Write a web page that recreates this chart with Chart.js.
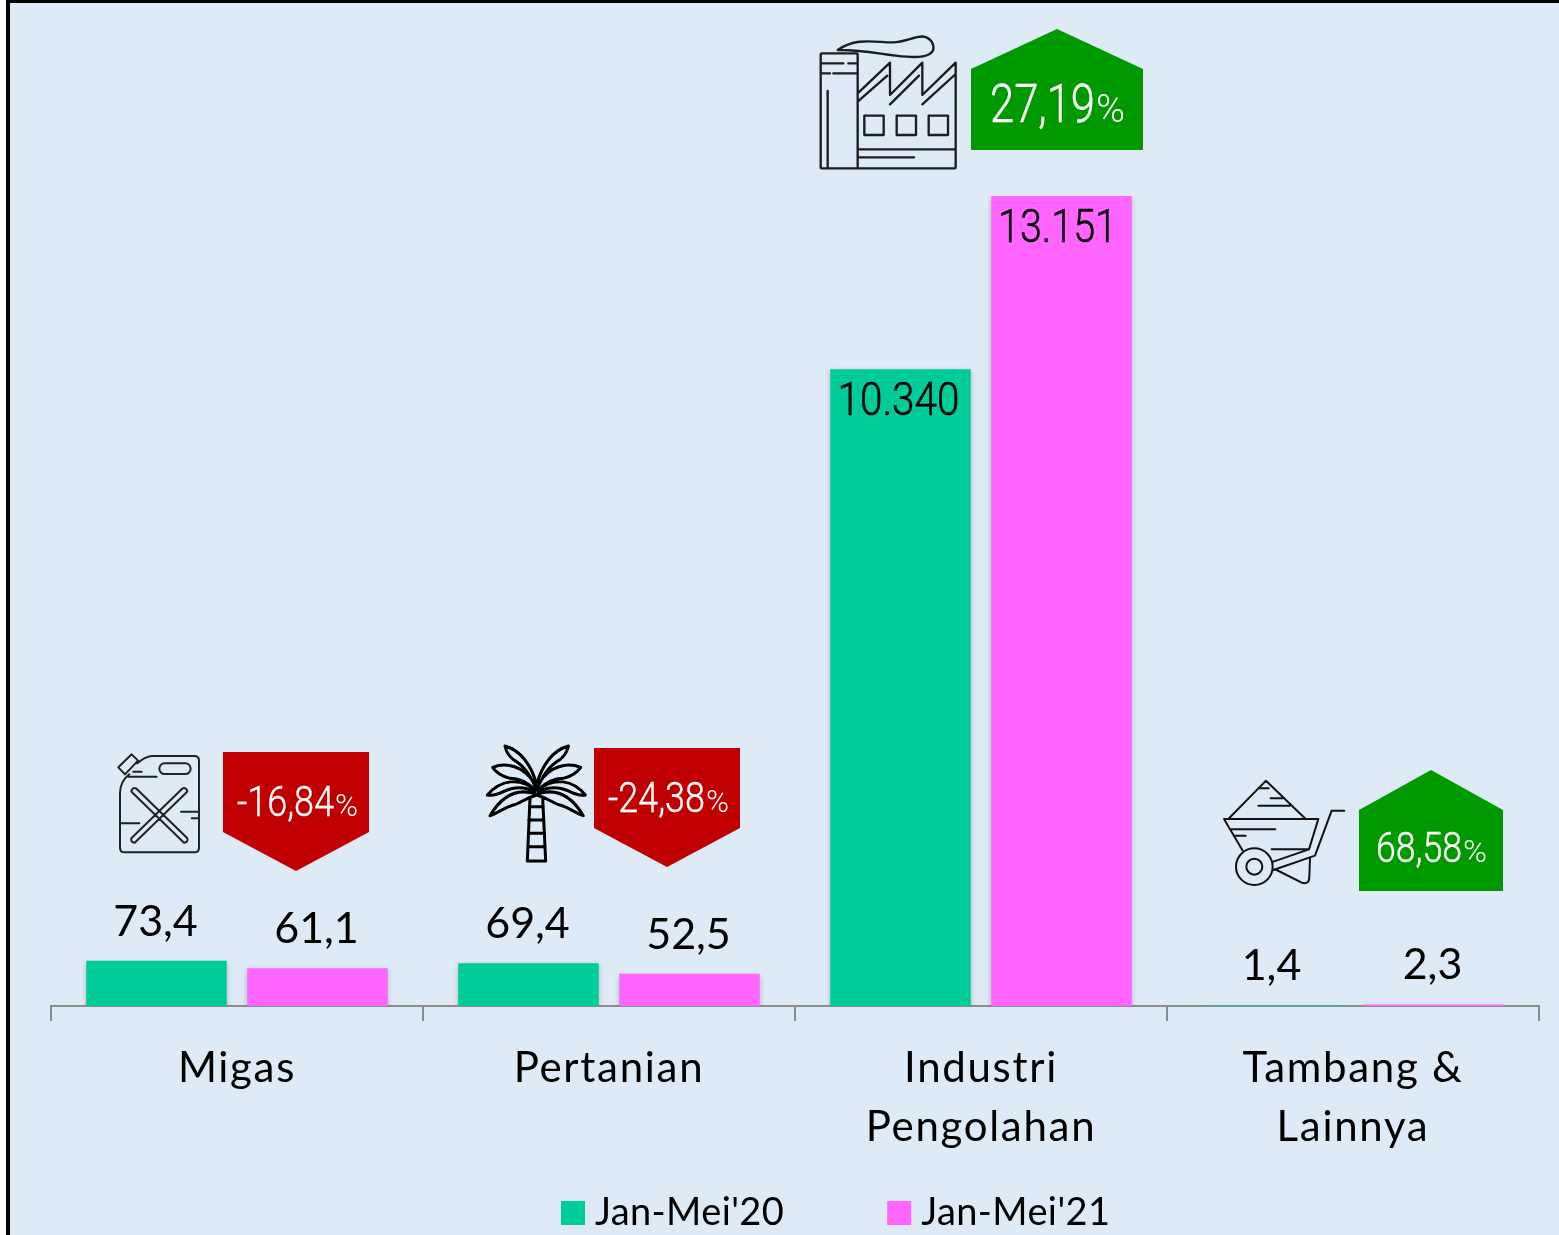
<!DOCTYPE html>
<html><head><meta charset="utf-8">
<style>html,body{margin:0;padding:0;background:#fff}canvas{display:block}</style>
<script src="https://cdn.jsdelivr.net/npm/chart.js@4/dist/chart.umd.min.js"></script>
</head><body>
<canvas id="c" width="1559" height="1235"></canvas>
<script>
const categories = [['Migas'], ['Pertanian'], ['Industri', 'Pengolahan'], ['Tambang &', 'Lainnya']];
const seriesNames = ["Jan-Mei'20", "Jan-Mei'21"];
// Bar heights as drawn in the picture (the small sectors are labelled in different units)
const values20 = [734, 694, 10340, 14];
const values21 = [611, 525, 13151, 23];
const labels20 = ['73,4', '69,4', '10.340', '1,4'];
const labels21 = ['61,1', '52,5', '13.151', '2,3'];
const growth = ['-16,84', '-24,38', '27,19', '68,58'];

const BG = '#DEEAF6', TEAL = '#00CC99', PINK = '#FF66FF', RED = '#C00000', GREEN = '#009900';
const LABEL_FONT = 'Lato, Carlito, "Open Sans", sans-serif';

function fitted(ctx, text, x, y, font, targetW, color, align, embolden) {
  ctx.save();
  ctx.font = font; ctx.fillStyle = color; ctx.textBaseline = 'alphabetic'; ctx.textAlign = 'left';
  const w = ctx.measureText(text).width;
  const sx = targetW / w;
  const left = align === 'left' ? x : x - targetW / 2;
  ctx.translate(left, y); ctx.scale(sx, 1);
  ctx.fillText(text, 0, 0);
  if (embolden) { ctx.strokeStyle = color; ctx.lineWidth = embolden; ctx.strokeText(text, 0, 0); }
  ctx.restore();
}

const ICONS = {
  factory: { o: [800, 10], lw: 7, c: '#1c1c1c', d:
    'M66 130H169Q173 130 173 134V475H66Q62 475 62 471V134Q62 130 66 130Z M62 160H130M145 160H173M62 190H90M100 190H173M83 243V475' +
    'M173 475H463Q467 475 467 471V158L367 255V158L270 255V158L173 250' +
    'M173 275L262 197M270 283L357 197M367 283L467 192' +
    'M193 317H251V375H193ZM290 317H348V375H290ZM386 317H444V375H386Z' +
    'M173 418H467M173 442H342' +
    'M113 120C170 80 230 98 280 97C330 95 370 60 395 95C415 130 380 145 320 140C250 135 190 118 113 120Z' },
  can: { o: [100, 735], lw: 6, c: '#222', d:
    'M88 118Q60 140 60 175V338Q60 352 74 352H283Q297 352 297 338V77Q297 63 283 63H155Q135 65 112 85' +
    'M55 97L95 58L114 77L75 118Z' +
    'M194 85H256A16 16 0 0 1 256 117H194A16 16 0 0 1 194 85Z' +
    'M100 110H125M85 125H170M243 230H295M275 250H297M60 265H118' +
    'M94 168Q98 156 108 160L262 310Q265 322 252 323L96 172Z' +
    'M262 168Q258 156 248 160L94 310Q91 322 104 323L260 172Z' },
  palm: { o: [480, 735], lw: 9, c: '#000', d:
    'M150 190L142 378H197L188 190M148 215H190M146 255H192M145 295H194M144 335H195' +
    'M170 150C155 90 120 45 75 33C80 60 100 75 110 80C140 100 155 130 170 165' +
    'M170 150C185 90 220 45 265 33C260 60 240 75 230 80C200 100 185 130 170 165' +
    'M160 140C130 95 80 80 38 97C50 115 70 125 90 130C120 130 145 145 165 165' +
    'M180 140C210 95 260 80 302 97C290 115 270 125 250 130C220 130 195 145 175 165' +
    'M165 165C120 125 60 135 22 180C40 183 60 175 70 170C100 155 135 155 165 170' +
    'M175 165C220 125 280 135 316 180C300 183 280 175 270 170C240 155 205 155 175 170' +
    'M170 178C120 160 70 175 30 242C50 235 80 215 100 210C120 205 135 190 170 180' +
    'M170 178C220 160 270 175 310 242C290 235 260 215 240 210C220 205 205 190 170 180' },
  barrow: { o: [1210, 760], lw: 6, c: '#111', d:
    'M55 177L168 62L287 177M42 177H325L297 268M42 177L100 275M190 305L297 268' +
    'M403 152H365L315 287L190 330M200 330L275 368Q298 375 298 350L300 295' +
    'M188 320A55 55 0 1 1 78 320A55 55 0 1 1 188 320ZM157 320A24 24 0 1 1 109 320A24 24 0 1 1 157 320Z' +
    'M148 85H176M182 115H218M145 137H240M65 208H196M75 227H107M185 268H295' }
};
const BADGES = [
  { i: 0, pts: [[223,752],[369,752],[369,832],[296,871],[223,832]], c: RED, base: 816, size: 43, tw: 97, ptc: 23, px: 237 },
  { i: 1, pts: [[594,748],[740,748],[740,828],[667,867],[594,828]], c: RED, base: 812, size: 43, tw: 97, ptc: 23, px: 608 },
  { i: 2, pts: [[971,150],[1143,150],[1143,69],[1057,29],[971,69]], c: GREEN, base: 122, size: 53, tw: 105, ptc: 29, px: 990 },
  { i: 3, pts: [[1359,891],[1503,891],[1503,810],[1431,770],[1359,810]], c: GREEN, base: 862, size: 43, tw: 86, ptc: 24, px: 1376 }
];

const decorate = {
  id: 'decorate',
  beforeDraw(chart) {
    const ctx = chart.ctx;
    ctx.save();
    ctx.fillStyle = '#fff'; ctx.fillRect(0, 0, 1559, 1235);
    ctx.fillStyle = BG; ctx.fillRect(8, 2, 1551, 1233);
    ctx.fillStyle = '#000'; ctx.fillRect(6, 0, 4, 1235); ctx.fillRect(6, 0, 1553, 3);
    ctx.restore();
    ctx.letterSpacing = '1.7px';
  },
  beforeDatasetsDraw(chart) {
    const ctx = chart.ctx;
    ctx.letterSpacing = '0px';
    ctx.save();
    ctx.shadowColor = 'rgba(0,0,0,0.22)'; ctx.shadowBlur = 5; ctx.shadowOffsetX = 0; ctx.shadowOffsetY = 2;
  },
  afterDatasetsDraw(chart) {
    const ctx = chart.ctx;
    ctx.restore();
    const all = [labels20, labels21];
    all.forEach((labs, ds) => {
      chart.getDatasetMeta(ds).data.forEach((bar, i) => {
        const t = labs[i];
        if (i === 2) {
          fitted(ctx, t, bar.x - (ds ? 4 : 2), bar.y + 46, '300 47px Roboto', ds ? 119 : 122, '#000', 'center', 0.5);
        } else {
          ctx.save();
          ctx.font = '43px ' + LABEL_FONT; ctx.fillStyle = '#000';
          ctx.textAlign = 'center'; ctx.textBaseline = 'middle';
          ctx.fillText(t, bar.x - 1, bar.y - 39);
          ctx.restore();
        }
      });
    });
    BADGES.forEach(b => {
      ctx.save();
      ctx.fillStyle = b.c; ctx.beginPath();
      b.pts.forEach((p, k) => k ? ctx.lineTo(p[0], p[1]) : ctx.moveTo(p[0], p[1]));
      ctx.closePath(); ctx.fill(); ctx.restore();
      fitted(ctx, growth[b.i], b.px, b.base, '300 ' + b.size + 'px Roboto', b.tw, '#fff', 'left', 0.4);
      fitted(ctx, '%', b.px + b.tw + 1, b.base, '300 ' + Math.round(b.size * 0.72) + 'px Roboto', b.ptc, '#fff', 'left');
    });
    Object.values(ICONS).forEach(ic => {
      ctx.save();
      ctx.translate(ic.o[0], ic.o[1]); ctx.scale(1 / 3, 1 / 3);
      ctx.strokeStyle = ic.c; ctx.lineWidth = ic.lw; ctx.lineJoin = 'round'; ctx.lineCap = 'round';
      ctx.stroke(new Path2D(ic.d));
      ctx.restore();
    });
  }
};

const legendPlace = {
  id: 'legendPlace',
  beforeLayout(chart) {
    const L = chart.legend;
    if (L && !L._wrapped) {
      L._wrapped = true;
      const f = L.fit.bind(L);
      L.fit = function () { f(); this.height = 0; };
      const d = L.draw.bind(L);
      L.draw = function (a) {
        const prev = this.ctx.letterSpacing;
        this.ctx.letterSpacing = '0.4px';
        d(a);
        this.ctx.letterSpacing = prev;
      };
    }
  },
  afterLayout(chart) {
    const L = chart.legend, pad = L.options.labels.padding;
    L.left = 570 - pad; L.right = 1559; L.width = L.right - L.left;
    L.top = 1194 - pad; L.bottom = 1235; L.height = L.bottom - L.top;
  }
};

new Chart(document.getElementById('c'), {
  type: 'bar',
  data: {
    labels: categories,
    datasets: [
      { label: seriesNames[0], data: values20, backgroundColor: TEAL, borderWidth: 0 },
      { label: seriesNames[1], data: values21, backgroundColor: PINK, borderWidth: 0 }
    ]
  },
  options: {
    responsive: false, animation: false,
    categoryPercentage: 0.8656, barPercentage: 0.8727,
    layout: { padding: { left: 51, right: 20, top: 196, bottom: 0 } },
    scales: {
      y: { display: false, min: 0, max: 13151 },
      x: {
        afterFit(s) { s.height = 229; },
        border: { display: true, color: '#8C8C8C', width: 2 },
        grid: { drawOnChartArea: false, color: '#8C8C8C', lineWidth: 2, tickLength: 15, offset: true },
        ticks: { color: '#000', padding: 18, maxRotation: 0, autoSkip: false, font: { family: LABEL_FONT, size: 42, lineHeight: 59 / 42 } }
      }
    },
    plugins: {
      tooltip: { enabled: false },
      legend: {
        display: true, position: 'bottom', align: 'start',
        labels: {
          font: { family: LABEL_FONT, size: 38 }, color: '#000',
          boxWidth: 6, boxHeight: 6, padding: 112,
          generateLabels(chart) {
            return chart.data.datasets.map((d, i) => ({
              text: d.label, fillStyle: d.backgroundColor, strokeStyle: d.backgroundColor,
              lineWidth: 18, hidden: false, datasetIndex: i, fontColor: '#000'
            }));
          }
        }
      }
    }
  },
  plugins: [legendPlace, decorate]
});
</script>
</body></html>
